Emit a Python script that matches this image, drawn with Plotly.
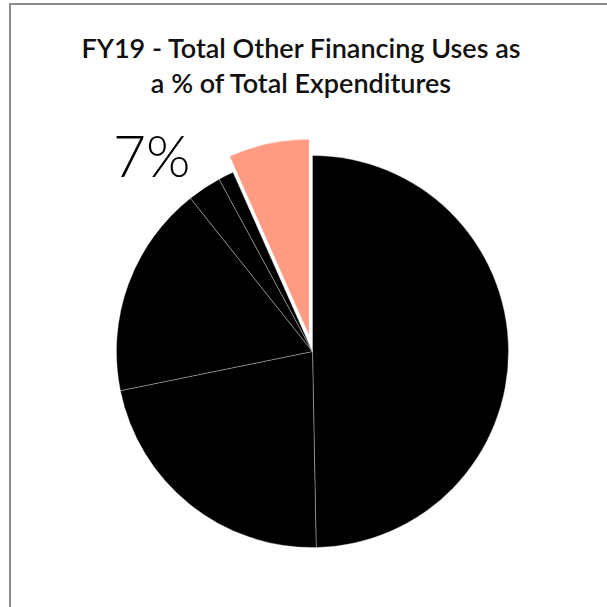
import plotly.graph_objects as go

# Share of FY19 total expenditures, clockwise from 12 o'clock
categories = ["Category A", "Category B", "Category C", "Category D", "Category E",
              "Other Financing Uses"]
values = [49.7, 22.1, 17.5, 2.8, 1.26, 6.64]
slice_colors = ["#000000", "#000000", "#000000", "#000000", "#000000", "#FF9B82"]
pulls = [0, 0, 0, 0, 0, 0.084]

title_text = "FY19 - Total Other Financing Uses as<br>a % of Total Expenditures"

total = sum(values)
highlight = len(values) - 1
highlight_label = f"{round(values[highlight] / total * 100)}%"

fig = go.Figure(
    go.Pie(
        labels=categories,
        values=values,
        sort=False,
        direction="clockwise",
        rotation=0,
        pull=pulls,
        marker=dict(colors=slice_colors,
                    line=dict(color="rgba(255,255,255,0.55)", width=0.6)),
        textinfo="none",
        hoverinfo="label+percent",
        showlegend=False,
        domain=dict(x=[0.1647, 0.8649], y=[0.0708, 0.7710]),
    )
)

# Callout for the highlighted slice
fig.add_annotation(
    text=highlight_label,
    x=193 / 607, y=1 - 155 / 607,
    xref="paper", yref="paper",
    xanchor="right", yanchor="middle",
    showarrow=False,
    font=dict(family="Lato", size=57, color="#000000", weight=300),
)

# Frame around the chart area
border = dict(color="#8c8c8c", width=2)
fig.add_shape(type="line", xref="paper", yref="paper",
              x0=10 / 607, x1=10 / 607, y0=-0.1, y1=1 - 4 / 607, line=border)
fig.add_shape(type="line", xref="paper", yref="paper",
              x0=9 / 607, x1=1.1, y0=1 - 4 / 607, y1=1 - 4 / 607, line=border)

fig.update_layout(
    width=607,
    height=607,
    margin=dict(l=0, r=0, t=0, b=0),
    paper_bgcolor="#ffffff",
    plot_bgcolor="#ffffff",
    title=dict(
        text=title_text,
        x=301 / 607, xanchor="center",
        y=1 - 58 / 607, yanchor="top",
        font=dict(family="Lato", size=27, color="#111111", weight=600),
    ),
)

fig.write_html("out.html")
